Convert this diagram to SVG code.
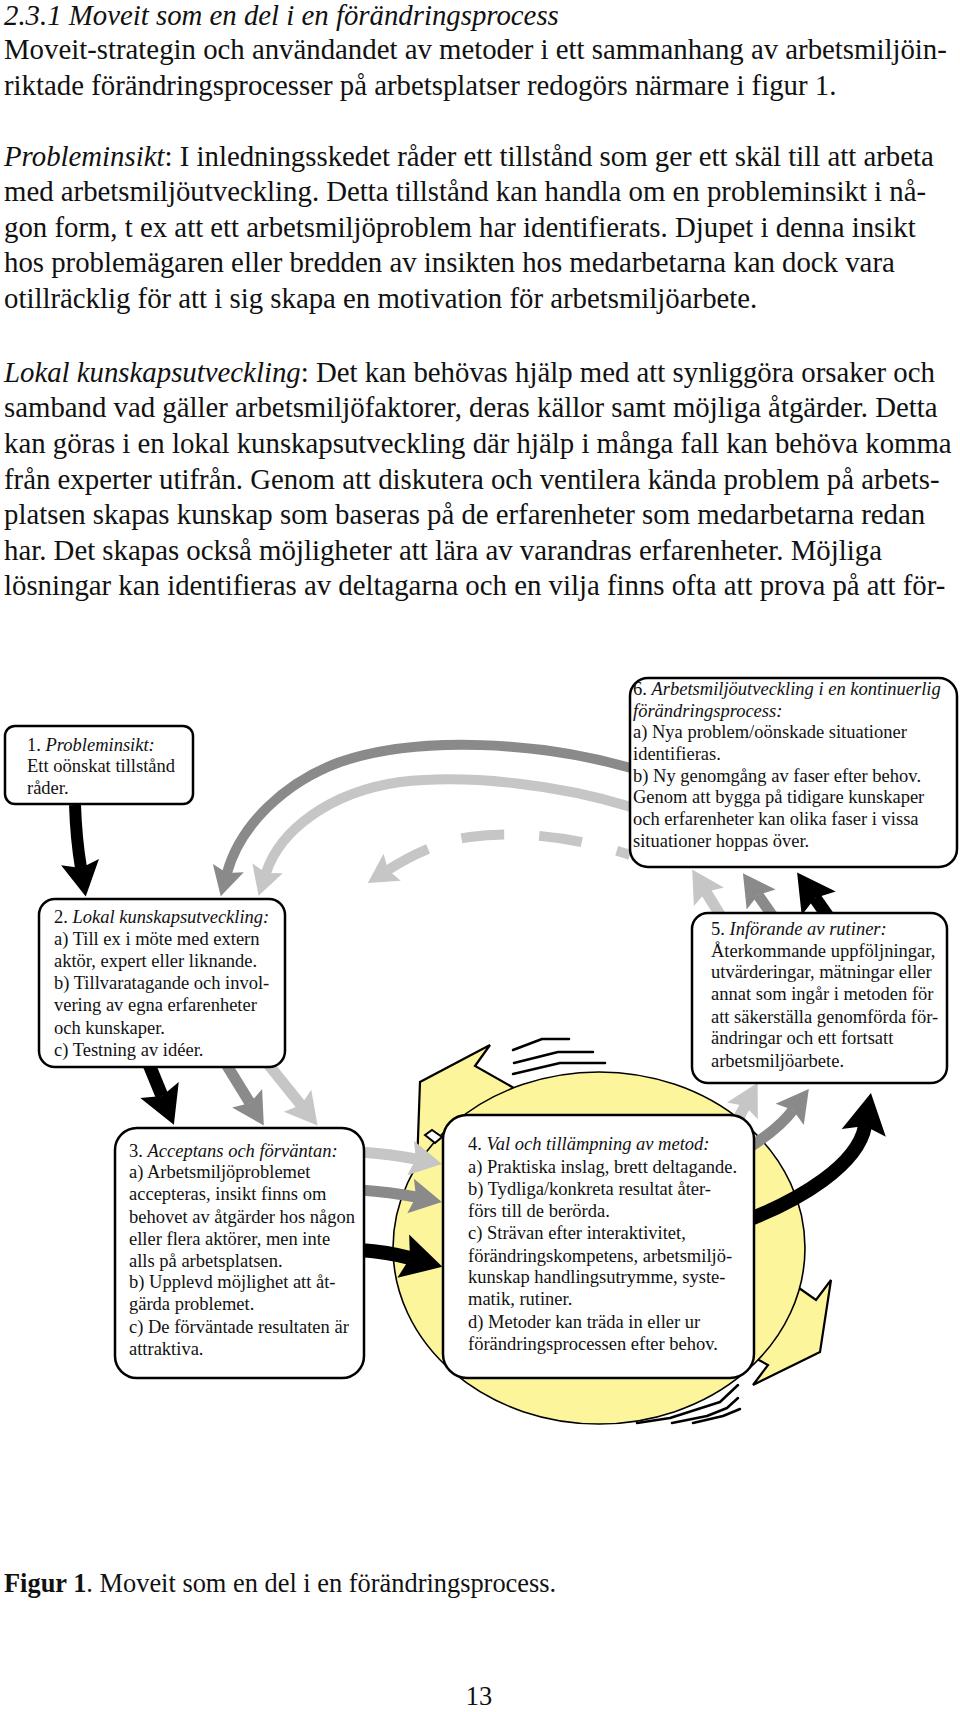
<svg xmlns="http://www.w3.org/2000/svg" width="960" height="1712" viewBox="0 0 960 1712">
<style>
.t{font-family:"Liberation Serif","Times New Roman",serif;font-size:28.8px;fill:#111}
.c{font-family:"Liberation Serif","Times New Roman",serif;font-size:26.4px;fill:#111}
.b{font-family:"Liberation Serif","Times New Roman",serif;font-size:18.5px;fill:#111}
.i{font-style:italic}
.box{fill:#fff;stroke:#000;stroke-width:2.5}
.k{fill:none;stroke:#000}
.d{fill:none;stroke:#8a8a8a}
.l{fill:none;stroke:#c6c6c6}
.speed{fill:none;stroke:#000;stroke-width:2.5;stroke-linecap:round;stroke-linejoin:round}
.yel{fill:#fdf59c;stroke:#000;stroke-width:2.2;stroke-linejoin:miter}
</style>
<defs>
<marker id="mk" viewBox="-1 -2 4 4" refX="0" refY="0" markerWidth="4" markerHeight="4" orient="auto" markerUnits="strokeWidth"><path d="M2.4,0 L-0.5,-1.6 L0,0 L-0.5,1.6 Z" fill="#000"/></marker>
<marker id="md" viewBox="-1 -2 4 4" refX="0" refY="0" markerWidth="4" markerHeight="4" orient="auto" markerUnits="strokeWidth"><path d="M2.4,0 L-0.5,-1.6 L0,0 L-0.5,1.6 Z" fill="#8a8a8a"/></marker>
<marker id="ml" viewBox="-1 -2 4 4" refX="0" refY="0" markerWidth="4" markerHeight="4" orient="auto" markerUnits="strokeWidth"><path d="M2.4,0 L-0.5,-1.6 L0,0 L-0.5,1.6 Z" fill="#c6c6c6"/></marker>
</defs>
<rect width="960" height="1712" fill="#fff"/>

<g id="bodytext">
<text class="t i" x="4" y="25">2.3.1 Moveit som en del i en förändringsprocess</text>
<text class="t" x="4" y="59">Moveit-strategin och användandet av metoder i ett sammanhang av arbetsmiljöin-</text>
<text class="t" x="4" y="94.5">riktade förändringsprocesser på arbetsplatser redogörs närmare i figur 1.</text>
<text class="t" x="4" y="165.5"><tspan class="i">Probleminsikt</tspan>: I inledningsskedet råder ett tillstånd som ger ett skäl till att arbeta</text>
<text class="t" x="4" y="201">med arbetsmiljöutveckling. Detta tillstånd kan handla om en probleminsikt i nå-</text>
<text class="t" x="4" y="236.6">gon form, t ex att ett arbetsmiljöproblem har identifierats. Djupet i denna insikt</text>
<text class="t" x="4" y="272.2">hos problemägaren eller bredden av insikten hos medarbetarna kan dock vara</text>
<text class="t" x="4" y="307.8">otillräcklig för att i sig skapa en motivation för arbetsmiljöarbete.</text>
<text class="t" x="4" y="381.7"><tspan class="i">Lokal kunskapsutveckling</tspan>: Det kan behövas hjälp med att synliggöra orsaker och</text>
<text class="t" x="4" y="417.3">samband vad gäller arbetsmiljöfaktorer, deras källor samt möjliga åtgärder. Detta</text>
<text class="t" x="4" y="453">kan göras i en lokal kunskapsutveckling där hjälp i många fall kan behöva komma</text>
<text class="t" x="4" y="488.6">från experter utifrån. Genom att diskutera och ventilera kända problem på arbets-</text>
<text class="t" x="4" y="524.2">platsen skapas kunskap som baseras på de erfarenheter som medarbetarna redan</text>
<text class="t" x="4" y="559.8">har. Det skapas också möjligheter att lära av varandras erfarenheter. Möjliga</text>
<text class="t" x="4" y="595.4">lösningar kan identifieras av deltagarna och en vilja finns ofta att prova på att för-</text>
</g>

<g id="cycle">
<polygon class="yel" points="417,1166 420,1082 490,1045 475,1066 514,1088 480,1112"/>
<polygon class="yel" points="799,1288 816,1300 831,1280 820,1352 753,1385 768,1365 757,1359 775,1320"/>
<ellipse cx="599" cy="1248" rx="206" ry="176" fill="#fdf59c" stroke="#000" stroke-width="1.6"/>
<polygon points="425,1135 432,1130 442,1137 435,1143" fill="#fff" stroke="#000" stroke-width="2"/>
<path class="speed" d="M513,1050 L542,1039 L569,1039 M514,1063 L558,1052 L593,1052 M513,1074 L560,1063 L605,1063"/>
<path class="speed" d="M637,1423 L670,1418 L720,1402 L738,1385 M672,1423 L707,1416 L727,1408 L738,1398 M693,1423 L723,1416 L740,1409"/>
</g>

<g id="connectors">
<path class="k" stroke-width="12" d="M75,805 C76,835 78,850 81,868" marker-end="url(#mk)"/>
<path class="d" stroke-width="10" d="M631,768 C540,742 420,735 340,762 C285,782 240,825 227,873" marker-end="url(#md)"/>
<path class="l" stroke-width="10" d="M631,807 C560,785 470,774 400,782 C330,792 280,830 266,873" marker-end="url(#ml)"/>
<path class="l" stroke-width="10" stroke-dasharray="14 36 43 35 43 35 80" d="M630,855 C580,838 520,830 470,837 C440,841 410,856 388,870" marker-end="url(#ml)"/>
<path class="k" stroke-width="13" d="M148,1062 L162,1096" marker-end="url(#mk)"/>
<path class="d" stroke-width="11" d="M226,1064 L250,1103" marker-end="url(#md)"/>
<path class="l" stroke-width="11" d="M268,1064 L301,1105" marker-end="url(#ml)"/>
<path class="l" stroke-width="11" d="M360,1152 Q390,1154 416,1159" marker-end="url(#ml)"/>
<path class="d" stroke-width="11" d="M360,1190 Q390,1192 416,1197" marker-end="url(#md)"/>
<path class="k" stroke-width="14" d="M360,1250 Q388,1252 410,1258" marker-end="url(#mk)"/>
<path class="l" stroke-width="11" d="M733,1128 L745,1106" marker-end="url(#ml)"/>
<path class="d" stroke-width="11" d="M745,1150 Q778,1130 793,1110" marker-end="url(#md)"/>
<path class="k" stroke-width="14" d="M745,1221 C800,1200 858,1165 865,1126" marker-end="url(#mk)"/>
<path class="l" stroke-width="11" d="M722,918 L706,892" marker-end="url(#ml)"/>
<path class="d" stroke-width="11" d="M774,918 L758,895" marker-end="url(#md)"/>
<path class="k" stroke-width="13" d="M829,918 L815,898" marker-end="url(#mk)"/>
</g>

<g id="box1">
<rect class="box" x="5" y="726" width="188" height="78" rx="10"/>
<text class="b" x="27" y="751">1. <tspan class="i">Probleminsikt:</tspan></text>
<text class="b" x="27" y="772">Ett oönskat tillstånd</text>
<text class="b" x="27" y="794">råder.</text>
</g>

<g id="box2">
<rect class="box" x="39" y="899" width="246" height="168" rx="16"/>
<text class="b" x="54" y="923">2. <tspan class="i">Lokal kunskapsutveckling:</tspan></text>
<text class="b" x="54" y="945">a) Till ex i möte med extern</text>
<text class="b" x="54" y="967">aktör, expert eller liknande.</text>
<text class="b" x="54" y="989">b) Tillvaratagande och invol-</text>
<text class="b" x="54" y="1011">vering av egna erfarenheter</text>
<text class="b" x="54" y="1034">och kunskaper.</text>
<text class="b" x="54" y="1056">c) Testning av idéer.</text>
</g>

<g id="box6">
<rect class="box" x="630" y="678" width="327" height="189" rx="18"/>
<text class="b" x="633" y="695">6. <tspan class="i">Arbetsmiljöutveckling i en kontinuerlig</tspan></text>
<text class="b i" x="633" y="717">förändringsprocess:</text>
<text class="b" x="633" y="738">a) Nya problem/oönskade situationer</text>
<text class="b" x="633" y="760">identifieras.</text>
<text class="b" x="633" y="782">b) Ny genomgång av faser efter behov.</text>
<text class="b" x="633" y="803">Genom att bygga på tidigare kunskaper</text>
<text class="b" x="633" y="825">och erfarenheter kan olika faser i vissa</text>
<text class="b" x="633" y="847">situationer hoppas över.</text>
</g>

<g id="box5">
<rect class="box" x="692" y="913" width="255" height="170" rx="16"/>
<text class="b" x="711" y="935">5. <tspan class="i">Införande av rutiner:</tspan></text>
<text class="b" x="711" y="957">Återkommande uppföljningar,</text>
<text class="b" x="711" y="978">utvärderingar, mätningar eller</text>
<text class="b" x="711" y="1000">annat som ingår i metoden för</text>
<text class="b" x="711" y="1023">att säkerställa genomförda för-</text>
<text class="b" x="711" y="1044">ändringar och ett fortsatt</text>
<text class="b" x="711" y="1067">arbetsmiljöarbete.</text>
</g>

<g id="box3">
<rect class="box" x="115" y="1128" width="249" height="250" rx="22"/>
<text class="b" x="129" y="1157">3. <tspan class="i">Acceptans och förväntan:</tspan></text>
<text class="b" x="129" y="1178">a) Arbetsmiljöproblemet</text>
<text class="b" x="129" y="1200">accepteras, insikt finns om</text>
<text class="b" x="129" y="1223">behovet av åtgärder hos någon</text>
<text class="b" x="129" y="1245">eller flera aktörer, men inte</text>
<text class="b" x="129" y="1267">alls på arbetsplatsen.</text>
<text class="b" x="129" y="1288">b) Upplevd möjlighet att åt-</text>
<text class="b" x="129" y="1310">gärda problemet.</text>
<text class="b" x="129" y="1333">c) De förväntade resultaten är</text>
<text class="b" x="129" y="1355">attraktiva.</text>
</g>

<g id="box4">
<rect class="box" x="443" y="1115" width="311" height="263" rx="24"/>
<text class="b" x="468" y="1150">4. <tspan class="i">Val och tillämpning av metod:</tspan></text>
<text class="b" x="468" y="1173">a) Praktiska inslag, brett deltagande.</text>
<text class="b" x="468" y="1195">b) Tydliga/konkreta resultat åter-</text>
<text class="b" x="468" y="1217">förs till de berörda.</text>
<text class="b" x="468" y="1239">c) Strävan efter interaktivitet,</text>
<text class="b" x="468" y="1262">förändringskompetens, arbetsmiljö-</text>
<text class="b" x="468" y="1283">kunskap handlingsutrymme, syste-</text>
<text class="b" x="468" y="1305">matik, rutiner.</text>
<text class="b" x="468" y="1328">d) Metoder kan träda in eller ur</text>
<text class="b" x="468" y="1350">förändringsprocessen efter behov.</text>
</g>

<g id="caption">
<text class="c" x="4" y="1592"><tspan font-weight="bold">Figur 1</tspan>. Moveit som en del i en förändringsprocess.</text>
<text class="c" x="479" y="1705" text-anchor="middle">13</text>
</g>
</svg>
